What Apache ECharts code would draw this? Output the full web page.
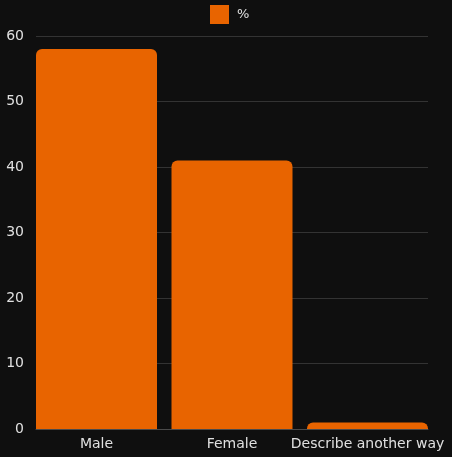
<!DOCTYPE html>
<html><head><meta charset="utf-8">
<script src="https://cdn.jsdelivr.net/npm/echarts@6/dist/echarts.min.js"></script>
<style>html,body{margin:0;padding:0;background:#0f0f0f;}#c{width:452px;height:457px;}</style>
</head><body><div id="c"></div>
<script>
const categories = ["Male", "Female", "Describe another way"];
const seriesName = "%";
const values = [58, 41, 1];
const yTicks = [0, 10, 20, 30, 40, 50, 60];

const chart = echarts.init(document.getElementById('c'));
const font = '"DejaVu Sans", sans-serif';
chart.setOption({
  backgroundColor: '#0f0f0f',
  animation: false,
  textStyle: {fontFamily: font},
  legend: {
    top: 5, left: 210, padding: 0, itemWidth: 19, itemHeight: 19, itemGap: 8, icon: 'rect',
    textStyle: {color: '#e0e0e0', fontSize: 13, fontFamily: font, padding: [0, 0, 0, 3]},
    data: [seriesName]
  },
  grid: [
    {left: 28.75, right: 16.75, top: 36, bottom: 28},
    {left: 36, right: 24, top: 36, bottom: 28}
  ],
  xAxis: [
    {type: 'category', gridIndex: 0, data: categories,
     axisLine: {show: false},
     axisTick: {show: false},
     axisLabel: {color: '#e0e0e0', fontSize: 14, fontFamily: font, margin: 8, interval: 0}},
    {type: 'category', gridIndex: 1, data: categories,
     axisLine: {show: true, lineStyle: {color: '#4a4a4a'}},
     axisTick: {show: false}, axisLabel: {show: false}}
  ],
  yAxis: [
    {type: 'value', gridIndex: 0, min: yTicks[0], max: yTicks[yTicks.length-1], interval: 10,
     show: false, splitLine: {show: false}},
    {type: 'value', gridIndex: 1, min: yTicks[0], max: yTicks[yTicks.length-1], interval: 10,
     axisLine: {show: false}, axisTick: {show: false},
     axisLabel: {color: '#e0e0e0', fontSize: 14, fontFamily: font, margin: 12},
     splitLine: {lineStyle: {color: '#333333'}}}
  ],
  series: [{
    name: seriesName, type: 'bar', xAxisIndex: 0, yAxisIndex: 0,
    data: values, barWidth: 121, z: 3,
    itemStyle: {color: '#e86400', borderRadius: [6, 6, 0, 0]}
  }]
});
</script></body></html>
